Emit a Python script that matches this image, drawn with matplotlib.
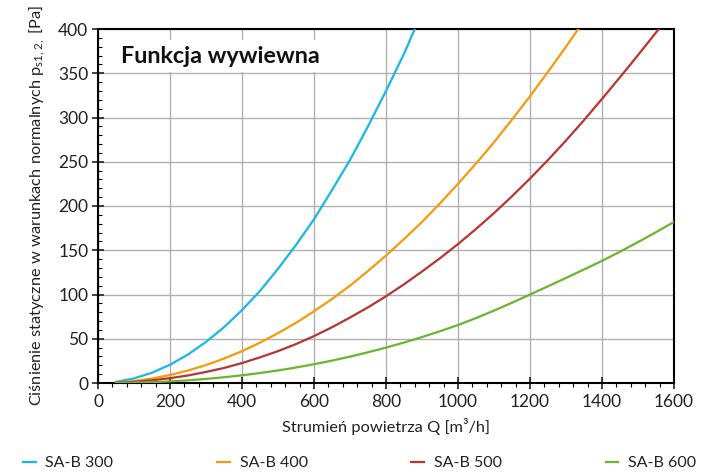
import matplotlib
matplotlib.use("Agg")
import matplotlib.pyplot as plt
from matplotlib.ticker import MultipleLocator

# --- data ---
q_300 = [50, 100, 150, 200, 250, 300, 350, 400, 450, 500, 550, 600, 650, 700, 750, 800, 850, 880]
p_300 = [1.3, 5.2, 11.6, 20.6, 32.2, 46.4, 63, 82.4, 104, 129, 156, 185, 218, 252, 290, 330, 372, 400]

q_400 = [50, 100, 150, 200, 250, 300, 350, 400, 450, 500, 550, 600, 650, 700, 750, 800, 850, 900,
         950, 1000, 1050, 1100, 1150, 1200, 1250, 1300, 1334]
p_400 = [0.6, 2.2, 5.1, 9, 14.1, 20.3, 27.6, 36, 45.6, 56.3, 68, 81, 95, 110, 126.6, 144, 162.6, 182,
         203, 225, 248, 272, 297.6, 324, 351.6, 380, 400]

q_500 = [50, 100, 150, 200, 250, 300, 350, 400, 450, 500, 550, 600, 650, 700, 750, 800, 850, 900,
         950, 1000, 1050, 1100, 1150, 1200, 1250, 1300, 1350, 1400, 1450, 1500, 1550, 1558]
p_500 = [0.3, 1.3, 3, 5.5, 8.5, 12.5, 17, 22.5, 29, 36, 44, 53, 63, 74, 85.5, 98, 111.5, 126,
         141, 157, 174, 192, 211, 231, 252, 274, 297, 321, 345.5, 370.5, 396, 400]

q_600 = [50, 100, 150, 200, 250, 300, 350, 400, 450, 500, 550, 600, 650, 700, 750, 800, 850, 900,
         950, 1000, 1050, 1100, 1150, 1200, 1250, 1300, 1350, 1400, 1450, 1500, 1550, 1600]
p_600 = [0.1, 0.4, 0.9, 1.8, 3, 4.6, 6.5, 8.7, 11.3, 14.2, 17.5, 21.2, 25.3, 29.8, 34.7, 40, 45.7, 51.9,
         58.5, 65.5, 73.4, 81.8, 90.7, 100, 109.3, 118.7, 128.3, 138, 148.4, 159.2, 170.4, 182]

series_names = ["SA-B 300", "SA-B 400", "SA-B 500", "SA-B 600"]
series_colors = ["#1ab6e6", "#f59a0a", "#b83434", "#6ab42e"]

x_ticks = [0, 200, 400, 600, 800, 1000, 1200, 1400, 1600]
y_ticks = [0, 50, 100, 150, 200, 250, 300, 350, 400]

plt.rcParams['font.family'] = ['Lato', 'DejaVu Sans']
plt.rcParams['mathtext.default'] = 'regular'

fig = plt.figure(figsize=(7.05, 4.75), dpi=100)
ax = fig.add_axes([98/705, 1-383/475, (674-98)/705, (383-29)/475])

data = [(q_300, p_300), (q_400, p_400), (q_500, p_500), (q_600, p_600)]
for (q, p), name, c in zip(data, series_names, series_colors):
    ax.plot(q, p, color=c, lw=1.6, label=name, zorder=3, clip_on=True,
            solid_joinstyle='round')

ax.set_xlim(0, 1600)
ax.set_ylim(0, 400)
ax.set_xticks(x_ticks)
ax.set_yticks(y_ticks)
ax.xaxis.set_minor_locator(MultipleLocator(40))
ax.yaxis.set_minor_locator(MultipleLocator(10))
ax.grid(True, which='major', color='#b0b0b0', lw=1.0, zorder=1)
ax.set_axisbelow(True)

for s in ax.spines.values():
    s.set_color('black')
    s.set_linewidth(1.5)

ax.tick_params(axis='x', which='major', direction='inout', length=8, width=1.2, labelsize=12.5, pad=4, colors='#222222')
ax.tick_params(axis='x', which='minor', direction='out', length=3, width=0.8)
ax.tick_params(axis='y', which='major', direction='inout', length=8, width=1.2, labelsize=12.5, pad=3, colors='#222222')
ax.tick_params(axis='y', which='minor', direction='in', length=3, width=0.8)

ax.set_xlabel("Strumień powietrza Q [m³/h]", fontsize=11.8, labelpad=6, color='#222222')
ax.set_ylabel(r"Ciśnienie statyczne w warunkach normalnych p$_{s1,2,}$ [Pa]", fontsize=11.8, labelpad=8, color='#222222')

ax.text(0.04, 0.923, "Funkcja wywiewna", transform=ax.transAxes, fontsize=16.8,
        fontweight='bold', ha='left', va='center', color='#111111', zorder=4,
        bbox=dict(facecolor='white', edgecolor='none', pad=4))

leg = fig.legend(loc='center', bbox_to_anchor=(0.51, 1-463/475), ncol=4, frameon=False,
                 fontsize=11.5, handlelength=0.8, handletextpad=0.6, columnspacing=6.5)
for t in leg.get_texts():
    t.set_color('#222222')

fig.savefig("out.png", dpi=100)
